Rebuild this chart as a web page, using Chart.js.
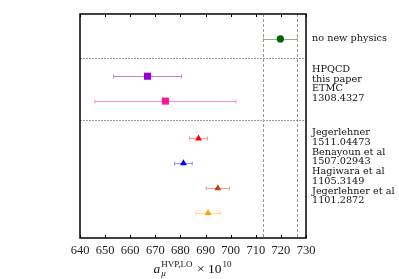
<!DOCTYPE html>
<html>
<head>
<meta charset="utf-8">
<script src="https://cdn.jsdelivr.net/npm/chart.js@4/dist/chart.umd.min.js"></script>
<style>
  body { margin: 0; background: #fff; }
  #wrap { width: 399px; height: 279px; }
</style>
</head>
<body>
<div id="wrap"><canvas id="myChart"></canvas></div>
<script>
// values (a_mu^HVP,LO x 10^10)
const centers = [719.8, 666.9, 674.0, 687.2, 681.2, 694.9, 691.0];
const errors = [6.8, 13.5, 28.1, 3.6, 3.5, 4.6, 4.9];
const rows = [1, 2.5, 3.5, 5, 6, 7, 8];
const markers = ["circle", "rect", "rect", "triangle", "triangle", "triangle", "triangle"];
const colors = ["#006400", "#9400d3", "#ff1493", "#ff0000", "#0000ff", "#c0440c", "#ffa500"];
const barColors = ["#8db48d", "#c27fe6", "#ff8ec6", "#ff9a9a", "#8f8fff", "#e0a888", "#ffd68a"];
const separators = [1.75, 4.25];
const bandLines = [713.0, 726.6];
const xTicks = [640, 650, 660, 670, 680, 690, 700, 710, 720, 730];

const textRows = [1, 2.22, 4.77];
const textLines = [
    ["no new physics"],
    ["HPQCD", "this paper", "ETMC", "1308.4327"],
    ["Jegerlehner", "1511.04473", "Benayoun et al", "1507.02943", "Hagiwara et al", "1105.3149", "Jegerlehner et al", "1101.2872"],
];

const serif = "'Liberation Serif', 'DejaVu Serif', serif";
const labelFont = "9.7px 'DejaVu Serif', serif";

let decorations = {
    id: "decorations",
    beforeDatasetsDraw(chart) {
        let ctx = chart.ctx;
        let area = chart.chartArea;
        let xs = chart.scales.x;
        let ys = chart.scales.y;
        ctx.save();
        // horizontal separators
        ctx.strokeStyle = "#9a9a9a";
        ctx.lineWidth = 1;
        ctx.setLineDash([2, 1]);
        separators.forEach((r) => {
            let y = Math.round(ys.getPixelForValue(r)) + 0.5;
            ctx.beginPath();
            ctx.moveTo(area.left, y);
            ctx.lineTo(area.right, y);
            ctx.stroke();
        });
        // vertical band lines
        ctx.strokeStyle = "#7fa67f";
        ctx.setLineDash([3, 2]);
        bandLines.forEach((v) => {
            let x = Math.round(xs.getPixelForValue(v)) + 0.5;
            ctx.beginPath();
            ctx.moveTo(x, area.top);
            ctx.lineTo(x, area.bottom);
            ctx.stroke();
        });
        ctx.setLineDash([]);
        // error bars
        centers.forEach((c, i) => {
            let y = Math.round(ys.getPixelForValue(rows[i])) + 0.5;
            let x0 = xs.getPixelForValue(c - errors[i]);
            let x1 = xs.getPixelForValue(c + errors[i]);
            ctx.strokeStyle = barColors[i];
            ctx.lineWidth = 1;
            ctx.beginPath();
            ctx.moveTo(x0, y);
            ctx.lineTo(x1, y);
            ctx.moveTo(x0, y - 2);
            ctx.lineTo(x0, y + 2);
            ctx.moveTo(x1, y - 2);
            ctx.lineTo(x1, y + 2);
            ctx.stroke();
        });
        ctx.restore();
    },
    afterDraw(chart) {
        let ctx = chart.ctx;
        let area = chart.chartArea;
        let xs = chart.scales.x;
        let ys = chart.scales.y;
        ctx.save();
        // frame
        ctx.strokeStyle = "#000";
        ctx.lineWidth = 1.5;
        ctx.strokeRect(area.left, area.top, area.right - area.left, area.bottom - area.top);
        // inward ticks top and bottom
        ctx.lineWidth = 1;
        xTicks.forEach((v) => {
            let x = Math.round(xs.getPixelForValue(v)) + 0.5;
            ctx.beginPath();
            ctx.moveTo(x, area.top);
            ctx.lineTo(x, area.top + 3);
            ctx.moveTo(x, area.bottom);
            ctx.lineTo(x, area.bottom - 3);
            ctx.stroke();
        });
        // right-hand labels
        ctx.fillStyle = "#111";
        ctx.font = labelFont;
        ctx.textAlign = "left";
        ctx.textBaseline = "middle";
        textRows.forEach((r, g) => {
            let y0 = ys.getPixelForValue(r);
            textLines[g].forEach((t, k) => {
                ctx.fillText(t, area.right + 6, y0 + k * 9.75);
            });
        });
        // axis title: a_mu^{HVP,LO} x 10^{10}
        let big = "13.5px " + serif;
        let small = "9px " + serif;
        let parts = [
            { t: "a", f: "italic " + big, dy: 0 },
            { t: "HVP,LO", f: small, dy: -6, sub: "\u03bc" },
            { t: " \u00d7 10", f: big, dy: 0 },
            { t: "10", f: small, dy: -6 },
        ];
        let total = 0;
        parts.forEach((p) => {
            ctx.font = p.f;
            p.w = ctx.measureText(p.t).width + 1;
            total += p.w;
        });
        let x = (area.left + area.right) / 2 - total / 2;
        let base = chart.height - 6;
        ctx.textBaseline = "alphabetic";
        parts.forEach((p) => {
            ctx.font = p.f;
            ctx.fillText(p.t, x, base + p.dy);
            if (p.sub) {
                ctx.font = "italic " + small;
                ctx.fillText(p.sub, x, base + 3);
            }
            x += p.w;
        });
        ctx.restore();
    },
};

const ctx = document.getElementById("myChart");
new Chart(ctx, {
    type: "scatter",
    data: {
        datasets: centers.map((c, i) => {
            return {
                data: [{ x: c, y: rows[i] }],
                pointStyle: markers[i],
                radius: markers[i] == "circle" ? 3.6 : markers[i] == "rect" ? 5 : 4,
                backgroundColor: colors[i],
                borderColor: colors[i],
                borderWidth: 0,
            };
        }),
    },
    options: {
        responsive: true,
        maintainAspectRatio: false,
        animation: false,
        layout: {
            padding: { left: 80, right: 93, top: 14, bottom: 16 },
        },
        plugins: {
            legend: { display: false },
            tooltip: { enabled: false },
        },
        scales: {
            x: {
                type: "linear",
                min: 640,
                max: 730,
                grid: { display: false, drawTicks: false },
                border: { display: false },
                ticks: {
                    stepSize: 10,
                    padding: 5,
                    color: "#222",
                    font: { family: serif, size: 12.5 },
                },
            },
            y: {
                type: "linear",
                min: 0,
                max: 9,
                reverse: true,
                display: false,
            },
        },
    },
    plugins: [decorations],
});
</script>
</body>
</html>
